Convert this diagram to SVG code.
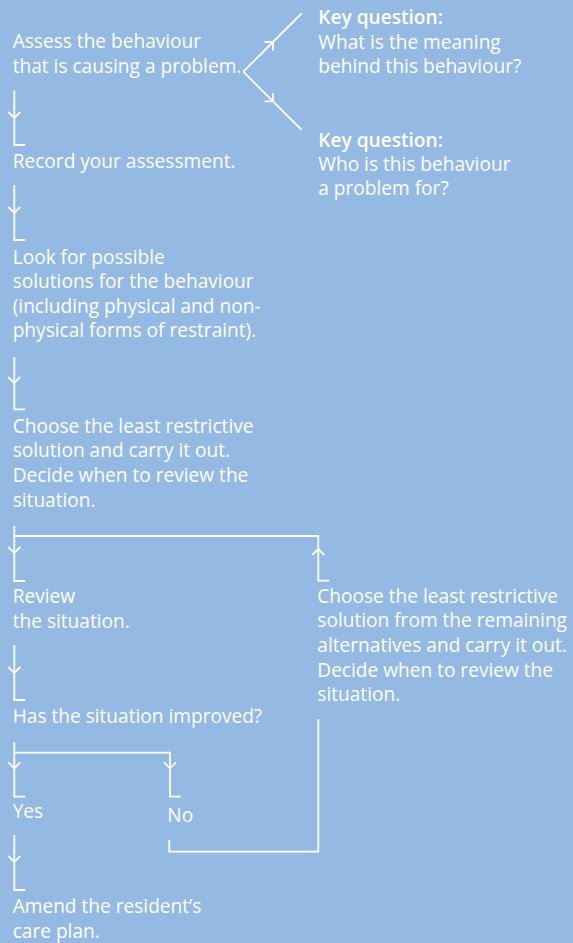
<svg xmlns="http://www.w3.org/2000/svg" width="573" height="943" viewBox="0 0 573 943">
<defs>
<style>
text{font-family:"Open Sans","Noto Sans",sans-serif;font-size:19.1px;fill:#ffffff}
.b{font-weight:600}
.c{fill:none;stroke:#ffffff;stroke-width:1.8}
</style>
<marker id="ah" viewBox="-10 -10 20 20" markerWidth="20" markerHeight="20" refX="0" refY="0" orient="auto" markerUnits="userSpaceOnUse">
<path d="M-6,-6 L0,0 L-6,6" fill="none" stroke="#ffffff" stroke-width="1.8"/>
</marker>
</defs>
<rect width="573" height="943" fill="#94bae3"/>
<g id="connectors">
<path class="c" d="M243.3,71.7 L273,42" marker-end="url(#ah)"/>
<path class="c" d="M273,42 L301.7,13.3"/>
<path class="c" d="M243.3,71.7 L273,101.4" marker-end="url(#ah)"/>
<path class="c" d="M273,101.4 L301.7,130"/>
<path class="c" d="M14.3,90 V118" marker-end="url(#ah)"/>
<path class="c" d="M14.3,118 V145 H25.3"/>
<path class="c" d="M14.3,185 V213" marker-end="url(#ah)"/>
<path class="c" d="M14.3,213 V240 H25.3"/>
<path class="c" d="M14.3,357 V383" marker-end="url(#ah)"/>
<path class="c" d="M14.3,383 V409.3 H25.3"/>
<path class="c" d="M14.3,526 V553" marker-end="url(#ah)"/>
<path class="c" d="M14.3,553 V581 H25.3"/>
<path class="c" d="M14.3,536 H318.3 V549"/>
<path class="c" d="M329.3,580.7 H318.3 V549" marker-end="url(#ah)"/>
<path class="c" d="M14.3,645 V673" marker-end="url(#ah)"/>
<path class="c" d="M14.3,673 V700 H25.3"/>
<path class="c" d="M14.3,742.3 V768.3" marker-end="url(#ah)"/>
<path class="c" d="M14.3,768.3 V796.7 H25.3"/>
<path class="c" d="M14.3,752.7 H170 V768.3" marker-end="url(#ah)"/>
<path class="c" d="M170,768.3 V796.7 H181"/>
<path class="c" d="M169.3,840 V851.7 H318.3 V719"/>
<path class="c" d="M14.3,835 V862" marker-end="url(#ah)"/>
<path class="c" d="M14.3,862 V890 H25.3"/>
</g>
<g id="assess"><text x="12.7" y="47.7">Assess the behaviour</text><text x="12.7" y="72.5">that is causing a problem.</text></g>
<g id="key-meaning"><text class="b" x="318.3" y="24">Key question:</text><text x="318.3" y="49">What is the meaning</text><text x="318.3" y="72.7">behind this behaviour?</text></g>
<g id="key-who"><text class="b" x="318.3" y="146.5">Key question:</text><text x="318.3" y="171">Who is this behaviour</text><text x="318.3" y="195.2">a problem for?</text></g>
<g id="record"><text x="12.7" y="168.3">Record your assessment.</text></g>
<g id="look"><text x="12.7" y="264.3">Look for possible</text><text x="12.7" y="288.3">solutions for the behaviour</text><text x="12.7" y="312.7">(including physical and non-</text><text x="12.7" y="336.7">physical forms of restraint).</text></g>
<g id="choose"><text x="12.7" y="433.3">Choose the least restrictive</text><text x="12.7" y="457.3">solution and carry it out.</text><text x="12.7" y="481.7">Decide when to review the</text><text x="12.7" y="506.7">situation.</text></g>
<g id="review"><text x="12.7" y="603.3">Review</text><text x="12.7" y="628.3">the situation.</text></g>
<g id="choose-alt"><text x="317.3" y="602.7">Choose the least restrictive</text><text x="317.3" y="627.3">solution from the remaining</text><text x="317.3" y="651.7">alternatives and carry it out.</text><text x="317.3" y="676.7">Decide when to review the</text><text x="317.3" y="701">situation.</text></g>
<g id="improved"><text x="12.7" y="723.3">Has the situation improved?</text></g>
<g id="yes"><text x="12.7" y="818.3">Yes</text></g>
<g id="no"><text x="167.3" y="822.3">No</text></g>
<g id="amend"><text x="12.7" y="913.3">Amend the resident’s</text><text x="12.7" y="938.3">care plan.</text></g>
</svg>
